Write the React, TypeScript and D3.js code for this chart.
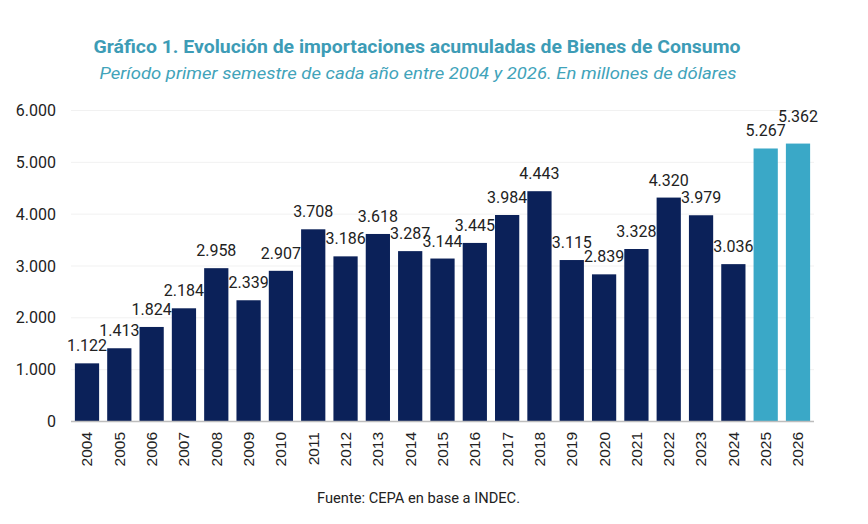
import React from 'react';
import { scaleBand, scaleLinear, formatLocale } from 'd3';

const years = [
  '2004', '2005', '2006', '2007', '2008', '2009', '2010', '2011', '2012', '2013', '2014', '2015',
  '2016', '2017', '2018', '2019', '2020', '2021', '2022', '2023', '2024', '2025', '2026',
];
const imports = [
  1122, 1413, 1824, 2184, 2958, 2339, 2907, 3708, 3186, 3618, 3287, 3144,
  3445, 3984, 4443, 3115, 2839, 3328, 4320, 3979, 3036, 5267, 5362,
];
const highlightYears = ['2025', '2026'];
const yTicks = [0, 1000, 2000, 3000, 4000, 5000, 6000];

const title = 'Gráfico 1. Evolución de importaciones acumuladas de Bienes de Consumo';
const subtitle = 'Período primer semestre de cada año entre 2004 y 2026. En millones de dólares';
const source = 'Fuente: CEPA en base a INDEC.';

const W = 868;
const H = 524;
const margin = { left: 71, right: 54, top: 110.5, bottom: 102.5 };

// the 2026 label sits a bit higher in the original so it clears 5.267
const labelLift: Record<string, number> = { '2026': 10 };

const es = formatLocale({ decimal: ',', thousands: '.', grouping: [3], currency: ['$', ''] });
const fmt = es.format(',d');

export default function App() {
  const x = scaleBand<string>()
    .domain(years)
    .range([margin.left, W - margin.right])
    .paddingInner(0.25)
    .paddingOuter(0.12);
  const y = scaleLinear()
    .domain([0, 6000])
    .range([H - margin.bottom, margin.top]);

  const font = 'Roboto, "Noto Sans", sans-serif';

  return (
    <svg
      width={W}
      height={H}
      style={{ position: 'absolute', left: 0, top: 0, background: '#fff' }}
    >
      <text
        x={417}
        y={53}
        textAnchor="middle"
        fontFamily={font}
        fontWeight={700}
        fontSize={17.5}
        fill="#3d9cb6"
        textLength={647}
        lengthAdjust="spacingAndGlyphs"
      >
        {title}
      </text>
      <text
        x={418}
        y={79}
        textAnchor="middle"
        fontFamily={font}
        fontStyle="italic"
        fontSize={17}
        fill="#41a3ba"
        textLength={637}
        lengthAdjust="spacingAndGlyphs"
      >
        {subtitle}
      </text>

      {/* grid + y ticks */}
      {yTicks.map(t => (
        <g key={t}>
          {t > 0 && (
            <line
              x1={margin.left}
              x2={W - margin.right}
              y1={y(t)}
              y2={y(t)}
              stroke="#f1f1f1"
              strokeWidth={1}
            />
          )}
          <text
            x={56}
            y={y(t)}
            dy="0.35em"
            textAnchor="end"
            fontFamily={font}
            fontSize={16}
            fill="#222"
          >
            {fmt(t)}
          </text>
        </g>
      ))}

      {years.map((yr, i) => {
        const v = imports[i];
        const bx = x(yr) ?? 0;
        const cx = bx + x.bandwidth() / 2;
        return (
          <g key={yr}>
            <rect
              x={bx}
              y={y(v)}
              width={x.bandwidth()}
              height={y(0) - y(v)}
              fill={highlightYears.includes(yr) ? '#3aa8c7' : '#0b2159'}
            />
            <text
              x={cx}
              y={y(v) - 12 - (labelLift[yr] ?? 0)}
              textAnchor="middle"
              fontFamily={font}
              fontSize={16}
              fill="#222"
            >
              {fmt(v)}
            </text>
            <text
              transform={`translate(${cx},432) rotate(-90)`}
              dy="0.35em"
              textAnchor="end"
              fontFamily='"Liberation Sans", Arial, sans-serif'
              fontSize={15.5}
              fill="#222"
            >
              {yr}
            </text>
          </g>
        );
      })}

      <line
        x1={margin.left}
        x2={W - margin.right}
        y1={y(0)}
        y2={y(0)}
        stroke="#bdbdbd"
        strokeWidth={1.5}
      />

      <text
        x={418.5}
        y={503}
        textAnchor="middle"
        fontFamily={font}
        fontSize={15}
        fill="#222"
        textLength={203}
        lengthAdjust="spacingAndGlyphs"
      >
        {source}
      </text>
    </svg>
  );
}
